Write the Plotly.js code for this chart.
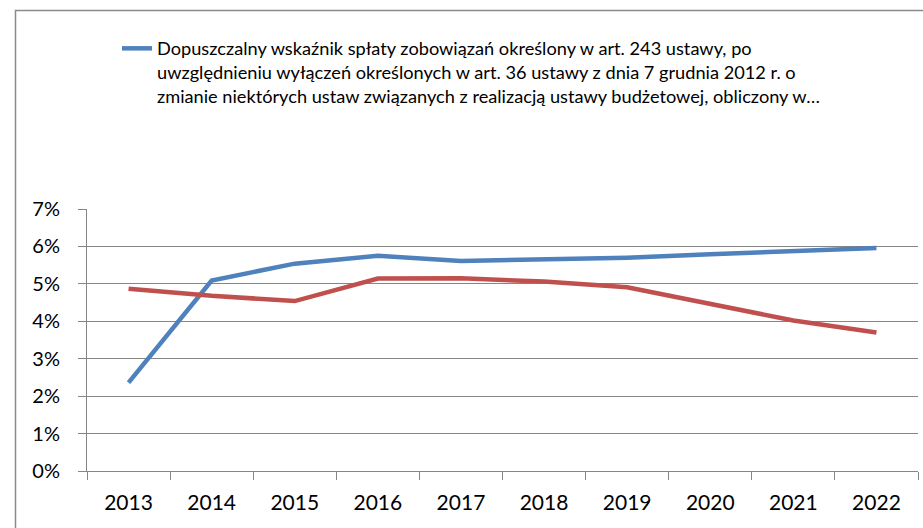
<!DOCTYPE html>
<html>
<head>
<meta charset="utf-8">
<script src="https://cdn.plot.ly/plotly-3.0.1.min.js"></script>
<style>html,body{margin:0;padding:0;background:#fff;}#chart{width:923px;height:528px;}</style>
</head>
<body>
<div id="chart"></div>
<script>
const years = ["2013","2014","2015","2016","2017","2018","2019","2020","2021","2022"];
const allowedRatio = [0.0236, 0.0509, 0.0554, 0.0575, 0.0561, 0.0565, 0.0570, 0.0579, 0.0588, 0.0596];
const plannedRatio = [0.0487, 0.0468, 0.0454, 0.0514, 0.0515, 0.0506, 0.0491, 0.0448, 0.0402, 0.0370];
const yTicks = [0, 0.01, 0.02, 0.03, 0.04, 0.05, 0.06, 0.07];
const yTickLabels = ["0%","1%","2%","3%","4%","5%","6%","7%"];
const blueName = "Dopuszczalny wskaźnik spłaty zobowiązań określony w art. 243 ustawy, po<br>uwzględnieniu wyłączeń określonych w art. 36 ustawy z dnia 7 grudnia 2012 r. o<br>zmianie niektórych ustaw związanych z realizacją ustawy budżetowej, obliczony w…";
const redName = "Relacja planowanej łącznej kwoty spłaty zobowiązań";

const W = 923, H = 528;
const mL = 87, mR = 5, mT = 209, mB = 57;
const pw = W - mL - mR, ph = H - mT - mB;
const px2x = p => (p - mL) / pw;
const px2y = p => (H - mB - p) / ph;

const traces = [
  {x: years, y: allowedRatio, type: "scatter", mode: "lines", name: blueName,
   line: {color: "#4F81BD", width: 4.5}},
  {x: years, y: plannedRatio, type: "scatter", mode: "lines", name: redName, showlegend: false,
   line: {color: "#C0504D", width: 4.5}}
];

const layout = {
  width: W, height: H,
  margin: {l: mL, r: mR, t: mT, b: mB},
  paper_bgcolor: "#fff", plot_bgcolor: "#fff",
  font: {family: "Lato, 'DejaVu Sans', sans-serif", color: "#000"},
  showlegend: true,
  legend: {x: px2x(117), xanchor: "left", y: px2y(30), yanchor: "top", valign: "top",
           font: {size: 18.2, family: "Lato, sans-serif", color: "#000"},
           bgcolor: "rgba(0,0,0,0)", itemwidth: 30},
  xaxis: {type: "category", range: [-0.5, 9.5], tickson: "boundaries",
          ticks: "outside", ticklen: 8, tickcolor: "#868686", tickwidth: 1,
          showline: true, linecolor: "#868686", linewidth: 1, showgrid: false, zeroline: false,
          tickfont: {size: 21}, ticklabelstandoff: 13, fixedrange: true},
  yaxis: {range: [0, 0.07], tickvals: yTicks, ticktext: yTickLabels,
          ticks: "outside", ticklen: 8, tickcolor: "#868686", tickwidth: 1,
          showline: true, linecolor: "#868686", linewidth: 1,
          showgrid: true, gridcolor: "#868686", gridwidth: 1, zeroline: false,
          tickfont: {size: 20}, ticklabelstandoff: 14, fixedrange: true},
  shapes: [{type: "rect", xref: "paper", yref: "paper",
            x0: px2x(15.5), x1: px2x(940), y0: px2y(560), y1: px2y(10.5),
            line: {color: "#8a8a8a", width: 1.5}, fillcolor: "rgba(0,0,0,0)", layer: "below"}]
};

Plotly.newPlot("chart", traces, layout, {displayModeBar: false, staticPlot: true});
</script>
</body>
</html>
